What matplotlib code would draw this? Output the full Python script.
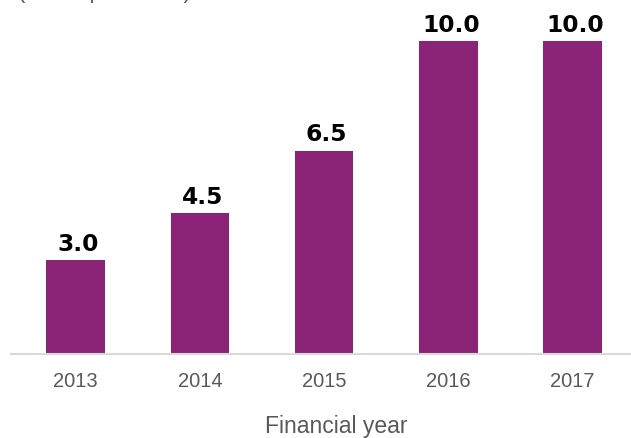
import matplotlib.pyplot as plt

years = ["2013", "2014", "2015", "2016", "2017"]
dividend = [3.0, 4.5, 6.5, 10.0, 10.0]

plt.rcParams["font.family"] = ["Liberation Sans", "DejaVu Sans"]

fig = plt.figure(figsize=(6.31, 4.39), dpi=100)
ax = fig.add_axes([11 / 631, 84 / 439, 620 / 631, 355 / 439])

x = range(len(years))
bars = ax.bar(x, dividend, width=0.47, color="#8B2377")

for b, v in zip(bars, dividend):
    ax.text(b.get_x() + b.get_width() / 2 + 0.02, v + 0.32, f"{v:.1f}",
            ha="center", va="baseline", fontsize=16.8, family="DejaVu Sans",
            fontweight="bold", color="black")

ax.set_xlim(-0.52, 4.47)
ax.set_ylim(0, 11.34)
ax.set_xticks(list(x), years)
ax.set_yticks([])
for side in ["top", "right", "left"]:
    ax.spines[side].set_visible(False)
ax.spines["bottom"].set_color("#D9D9D9")
ax.spines["bottom"].set_linewidth(1.5)
ax.tick_params(axis="x", length=0, pad=12, labelsize=14.5, labelcolor="#595959")
ax.set_xlabel("Financial year", fontsize=16.5, color="#595959", labelpad=21)
ax.xaxis.set_label_coords(0.524, -0.17)

# unit caption sits at the very top edge
fig.text(18 / 631, 1 + 2 / 439, "(In Rs. per share)", fontsize=16,
         color="#595959", ha="left", va="baseline")

fig.savefig("out.png", dpi=100)
